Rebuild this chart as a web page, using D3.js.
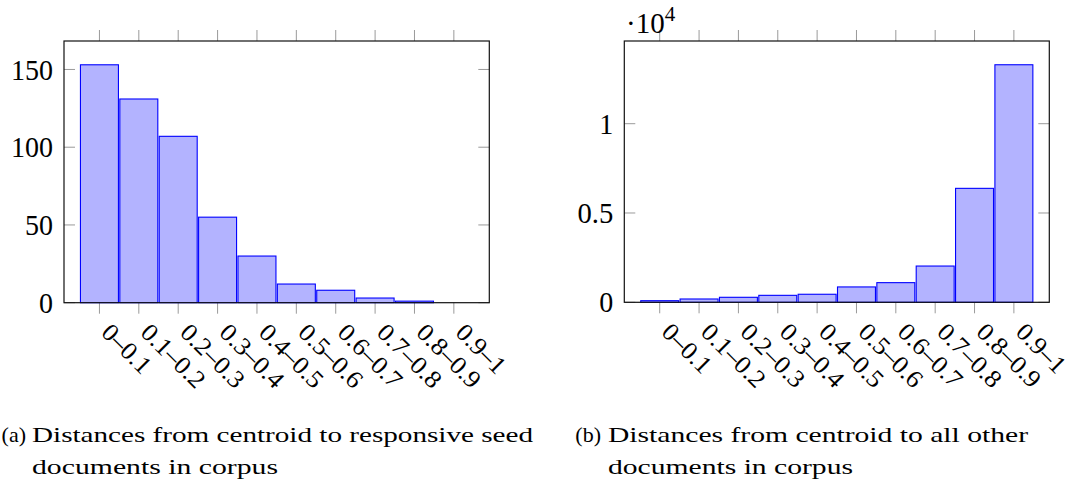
<!DOCTYPE html>
<html>
<head>
<meta charset="utf-8">
<script src="https://cdn.jsdelivr.net/npm/d3@7"></script>
<style>
  html, body { margin: 0; padding: 0; background: #fff; }
  svg { display: block; }
  text { fill: #000; }
</style>
</head>
<body>
<svg id="chart" width="1073" height="486"></svg>
<script>
// ---- data ----
const categories = ["0–0.1", "0.1–0.2", "0.2–0.3", "0.3–0.4", "0.4–0.5",
                    "0.5–0.6", "0.6–0.7", "0.7–0.8", "0.8–0.9", "0.9–1"];
const seedCounts = [153, 131, 107, 55, 30, 12, 8, 3, 1, 0];
const otherCounts = [90, 185, 280, 390, 450, 860, 1100, 2030, 6380, 13300];
const seedTicks = [0, 50, 100, 150];
const otherTicks = [0, 5000, 10000];
const otherTickLabels = ["0", "0.5", "1"];
const captionA = ["Distances from centroid to responsive seed", "documents in corpus"];
const captionB = ["Distances from centroid to all other", "documents in corpus"];

const FONT = "'Liberation Serif', 'Times New Roman', Tinos, serif";
const svg = d3.select("#chart").attr("font-family", FONT);

// approximate serif (Computer Modern-like) advance widths in em
function emWidth(s) {
  let w = 0;
  for (const ch of s) w += (ch === "." ? 0.278 : 0.5);
  return w;
}

function drawPanel(opts) {
  const { x0, x1, y0, y1, values, ticks, tickLabels } = opts;
  const g = svg.append("g");
  const n = values.length;
  const x = d3.scaleLinear().domain([-0.9, n - 1 + 0.9]).range([x0, x1]);
  const ymax = d3.max(values) * 1.1;
  const y = d3.scaleLinear().domain([0, ymax]).range([y1, y0]);
  const step = x(1) - x(0);
  const bw = step - 1.4;

  const tickColor = "#9a9a9a";
  d3.range(n).forEach(i => {
    g.append("line").attr("x1", x(i)).attr("x2", x(i))
      .attr("y1", y0 - 11).attr("y2", y0)
      .attr("stroke", tickColor).attr("stroke-width", 1);
    g.append("line").attr("x1", x(i)).attr("x2", x(i))
      .attr("y1", y1).attr("y2", y1 + 11)
      .attr("stroke", tickColor).attr("stroke-width", 1);
  });
  ticks.forEach(t => {
    g.append("line").attr("x1", x0).attr("x2", x0 + 11)
      .attr("y1", y(t)).attr("y2", y(t))
      .attr("stroke", tickColor).attr("stroke-width", 1);
    g.append("line").attr("x1", x1 - 11).attr("x2", x1)
      .attr("y1", y(t)).attr("y2", y(t))
      .attr("stroke", tickColor).attr("stroke-width", 1);
  });

  g.selectAll("rect.bar").data(values).enter().append("rect")
    .attr("class", "bar")
    .attr("x", (d, i) => x(i) - bw / 2)
    .attr("width", bw)
    .attr("y", d => y(d))
    .attr("height", d => y(0) - y(d))
    .attr("fill", "#b3b3ff")
    .attr("stroke", "#0000ff")
    .attr("stroke-width", 1.1);

  g.append("rect").attr("x", x0).attr("y", y0)
    .attr("width", x1 - x0).attr("height", y1 - y0)
    .attr("fill", "none").attr("stroke", "#111").attr("stroke-width", 1.2);

  ticks.forEach((t, i) => {
    g.append("text").attr("x", x0 - 11).attr("y", y(t))
      .attr("dy", "0.35em")
      .attr("text-anchor", "end")
      .attr("font-size", 29)
      .attr("textLength", emWidth(tickLabels[i]) * 28)
      .attr("lengthAdjust", "spacingAndGlyphs")
      .text(tickLabels[i]);
  });

  categories.forEach((c, i) => {
    const px = x(i) + 0.5, py = y1 + 31;
    g.append("text")
      .attr("transform", `translate(${px},${py}) rotate(45)`)
      .attr("text-anchor", "start")
      .attr("font-size", 25)
      .attr("textLength", emWidth(c) * 26)
      .attr("lengthAdjust", "spacingAndGlyphs")
      .text(c);
  });
  return { x, y };
}

drawPanel({ x0: 64, x1: 489.3, y0: 41, y1: 302.7, values: seedCounts,
            ticks: seedTicks, tickLabels: seedTicks.map(String) });
drawPanel({ x0: 624.3, x1: 1049.3, y0: 41, y1: 302.3, values: otherCounts,
            ticks: otherTicks, tickLabels: otherTickLabels });

const sf = svg.append("text").attr("x", 626).attr("y", 32.5).attr("font-size", 29);
sf.append("tspan").text("·10");
sf.append("tspan").attr("font-size", 21).attr("dy", -12).text("4");

function caption(labelText, labelEnd, startX, lines, widths) {
  svg.append("text").attr("x", labelEnd).attr("y", 442)
    .attr("text-anchor", "end").attr("font-size", 22).text(labelText);
  lines.forEach((l, i) => {
    svg.append("text").attr("x", startX).attr("y", 442 + i * 32)
      .attr("font-size", 22)
      .attr("textLength", widths[i]).attr("lengthAdjust", "spacingAndGlyphs")
      .text(l);
  });
}
caption("(a)", 26, 32, captionA, [501, 246]);
caption("(b)", 601, 608, captionB, [420, 245]);
</script>
</body>
</html>
